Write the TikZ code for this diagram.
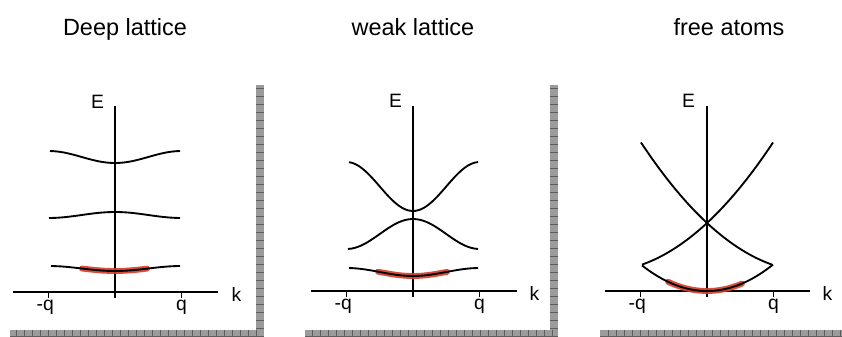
\documentclass[tikz,border=0pt]{standalone}
\usepackage{fontspec}
\setmainfont{Liberation Sans}
\definecolor{bandred}{RGB}{214,58,38}
\definecolor{framegray}{RGB}{155,155,155}
\definecolor{framedark}{RGB}{95,95,95}
\usetikzlibrary{positioning}

\begin{document}
\begin{tikzpicture}[x=0.75pt,y=0.75pt,
  axis/.style={line width=1.5pt},
  tick/.style={line width=0.8pt},
  band/.style={line width=1.4pt},
  lowest/.style={line width=4.4pt,bandred,opacity=0.9,line cap=round},
  lbl/.style={font=\fontsize{14.5}{16}\selectfont,inner sep=1pt},
  title/.style={font=\fontsize{17.6}{20}\selectfont,anchor=base},
  frame/.style={fill=framegray,draw=none},
  ruler/.style={draw=framedark,line width=0.5pt}
]
  \useasboundingbox (0,0) rectangle (842,336);
  % titles
  \node[title] (t1) at (125,300) {Deep lattice};
  \node[title] (t2) at (413,300) {weak lattice};
  \node[title] (t3) at (729,300) {free atoms};
  % gray frames
  \fill[frame] (256,0) rectangle (264,251);
  \fill[frame] (10,0) rectangle (264,6);
  \fill[frame] (550,0) rectangle (558,251);
  \fill[frame] (305,0) rectangle (558,6);
  \fill[frame] (600,0) rectangle (842,6);
  \foreach \y in {8,16,...,248} {
    \draw[ruler] (256,\y) -- (264,\y);
    \draw[ruler] (550,\y) -- (558,\y);
  }
  \foreach \x in {16,24,...,256} \draw[ruler] (\x,0) -- (\x,6);
  \foreach \x in {312,320,...,552} \draw[ruler] (\x,0) -- (\x,6);
  \foreach \x in {608,616,...,840} \draw[ruler] (\x,0) -- (\x,6);
  \draw[ruler] (10,0) -- (264,0);
  \draw[ruler] (305,0) -- (558,0);
  \draw[ruler] (600,0) -- (842,0);

  % deep lattice
  \begin{scope}[shift={(115,44)}]
    \coordinate (kL1) at (-102,0);
    \coordinate (kR1) at (103,0);
    \coordinate (eB1) at (0,-6);
    \coordinate (eT1) at (0,186);
    \draw[axis] (kL1) -- (kR1);
    \draw[axis] (eB1) -- (eT1);
    \node[lbl,anchor=north] (mq1) at (-66.5,-6) {\llap{-}q};
    \node[lbl,anchor=north] (q1) at (66.5,-6) {q};
    \draw[tick] (mq1.north) -- (mq1.north |- kL1);
    \draw[tick] (q1.north) -- (q1.north |- kL1);
    \node[lbl,anchor=base west] (k1) at (115,-9) {k};
    \node[lbl,anchor=base] (E1) at (-17.5,183) {E};
    \draw[band] plot[domain=-65:65,samples=40] (\x,{135-6*cos(180*\x/66.5)});
    \draw[band] plot[domain=-66:65,samples=40] (\x,{77+3*cos(180*\x/66.5)});
    \draw[lowest] plot[domain=-33:32,samples=20] (\x,{23.5-2.5*cos(180*\x/66.5)});
    \draw[band] plot[domain=-64:65,samples=40] (\x,{23.5-2.5*cos(180*\x/66.5)});
  \end{scope}

  % weak lattice
  \begin{scope}[shift={(413,45)}]
    \coordinate (kL2) at (-102,0);
    \coordinate (kR2) at (104,0);
    \coordinate (eB2) at (0,-6);
    \coordinate (eT2) at (0,185);
    \draw[axis] (kL2) -- (kR2);
    \draw[axis] (eB2) -- (eT2);
    \node[lbl,anchor=north] (mq2) at (-66.5,-6) {\llap{-}q};
    \node[lbl,anchor=north] (q2) at (66.5,-6) {q};
    \draw[tick] (mq2.north) -- (mq2.north |- kL2);
    \draw[tick] (q2.north) -- (q2.north |- kL2);
    \node[lbl,anchor=base west] (k2) at (115,-9) {k};
    \node[lbl,anchor=base] (E2) at (-17.5,183) {E};
    \draw[band] plot[domain=-64:65,samples=40] (\x,{104.5-24.5*cos(180*\x/66.5)});
    \draw[band] plot[domain=-65:65,samples=40] (\x,{57+15*cos(180*\x/66.5)});
    \draw[lowest] plot[domain=-35:34,samples=20] (\x,{19-4*cos(180*\x/66.5)});
    \draw[band] plot[domain=-64:65,samples=40] (\x,{19-4*cos(180*\x/66.5)});
  \end{scope}

  % free atoms
  \begin{scope}[shift={(707,45)}]
    \coordinate (kL3) at (-102,0);
    \coordinate (kR3) at (103,0);
    \coordinate (eB3) at (0,-6);
    \coordinate (eT3) at (0,185);
    \draw[axis] (kL3) -- (kR3);
    \draw[axis] (eB3) -- (eT3);
    \node[lbl,anchor=north] (mq3) at (-66.5,-6) {\llap{-}q};
    \node[lbl,anchor=north] (q3) at (66.5,-6) {q};
    \draw[tick] (mq3.north) -- (mq3.north |- kL3);
    \draw[tick] (q3.north) -- (q3.north |- kL3);
    \node[lbl,anchor=base west] (k3) at (114,-9) {k};
    \node[lbl,anchor=base] (E3) at (-18.5,183) {E};
    \draw[lowest] plot[domain=-39:35,samples=20] (\x,{26*(\x/65.5)^2});
    \draw[band] plot[domain=-65:66,samples=40] (\x,{26*(\x/65.5)^2});
    \draw[band] plot[domain=-65:66,samples=40] (\x,{0.00442*\x*\x+0.928*\x+68});
    \draw[band] plot[domain=-66:65,samples=40] (\x,{0.00442*\x*\x-0.928*\x+68});
  \end{scope}
\end{tikzpicture}
\end{document}
